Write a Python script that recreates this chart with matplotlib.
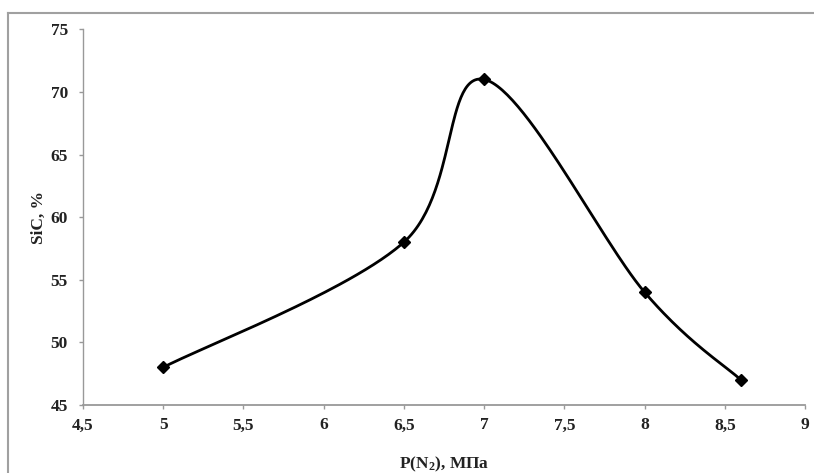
import matplotlib
matplotlib.use('Agg')
import matplotlib.pyplot as plt
import numpy as np
from matplotlib.lines import Line2D

plt.rcParams['font.family'] = ['Liberation Serif', 'DejaVu Serif']
plt.rcParams['font.weight'] = 'bold'
plt.rcParams['mathtext.fontset'] = 'custom'
plt.rcParams['mathtext.rm'] = 'Liberation Serif:bold'
plt.rcParams['mathtext.bf'] = 'Liberation Serif:bold'
plt.rcParams['mathtext.default'] = 'bf'

# data
pressure = [5.0, 6.5, 7.0, 8.0, 8.6]
sic = [48, 58, 71, 54, 47]
x_ticks = [4.5, 5, 5.5, 6, 6.5, 7, 7.5, 8, 8.5, 9]
x_labels = ['4,5', '5', '5,5', '6', '6,5', '7', '7,5', '8', '8,5', '9']
y_ticks = [45, 50, 55, 60, 65, 70, 75]


def smooth(xs, ys, sx, sy, n=60):
    # excel-like smoothed line: catmull-rom bezier in screen-ish space
    p = np.column_stack([np.asarray(xs) * sx, np.asarray(ys) * sy])
    p = np.vstack([p[0], p, p[-1]])
    out = []
    for i in range(1, len(p) - 2):
        p0, p1, p2, p3 = p[i - 1], p[i], p[i + 1], p[i + 2]
        c1 = p1 + (p2 - p0) / 6.0
        c2 = p2 - (p3 - p1) / 6.0
        t = np.linspace(0, 1, n)[:, None]
        seg = ((1 - t) ** 3) * p1 + 3 * ((1 - t) ** 2) * t * c1 + 3 * (1 - t) * t ** 2 * c2 + t ** 3 * p2
        out.append(seg)
    out = np.vstack(out)
    return out[:, 0] / sx, out[:, 1] / sy


fig = plt.figure(figsize=(8.14, 4.73), dpi=100)
ax = fig.add_axes([0.102, 0.144, 0.887, 0.794])

# scales in px per unit (approx) so the smoothing matches on screen
cx, cy = smooth(pressure, sic, 160.0, 12.5)
ax.plot(cx, cy, color='black', lw=2.0, solid_capstyle='round')
ax.plot(pressure, sic, linestyle='none', marker='D', color='black', markersize=6.5)

ax.set_xlim(4.5, 9)
ax.set_ylim(45, 75)
ax.set_xticks(x_ticks)
ax.set_xticklabels(x_labels)
ax.set_yticks(y_ticks)

for s in ['top', 'right']:
    ax.spines[s].set_visible(False)
for s in ['left', 'bottom']:
    ax.spines[s].set_color('#999999')
    ax.spines[s].set_linewidth(1.3)
ax.spines['left'].set_linewidth(1.0)
ax.tick_params(axis='both', direction='out', length=3, width=1, color='#999999',
               labelsize=12.5, labelcolor='#222222', pad=6)
ax.tick_params(axis='y', pad=8)

ax.set_xlabel('P(N$_2$), МПа', fontsize=12.5, fontweight='bold', color='#222222')
ax.set_ylabel('SiC, %', fontsize=12.5, fontweight='bold', color='#222222')
ax.xaxis.set_label_coords(0.5, -0.132)
ax.yaxis.set_label_coords(-0.05, 0.5)

# outer frame
fig.add_artist(Line2D([8 / 814, 8 / 814], [0, 1 - 13.5 / 473], transform=fig.transFigure,
                      color='#a0a0a0', lw=1.5))
fig.add_artist(Line2D([8 / 814, 1], [1 - 13.5 / 473, 1 - 13.5 / 473], transform=fig.transFigure,
                      color='#a0a0a0', lw=1.5))

fig.savefig('out.png', dpi=100)
